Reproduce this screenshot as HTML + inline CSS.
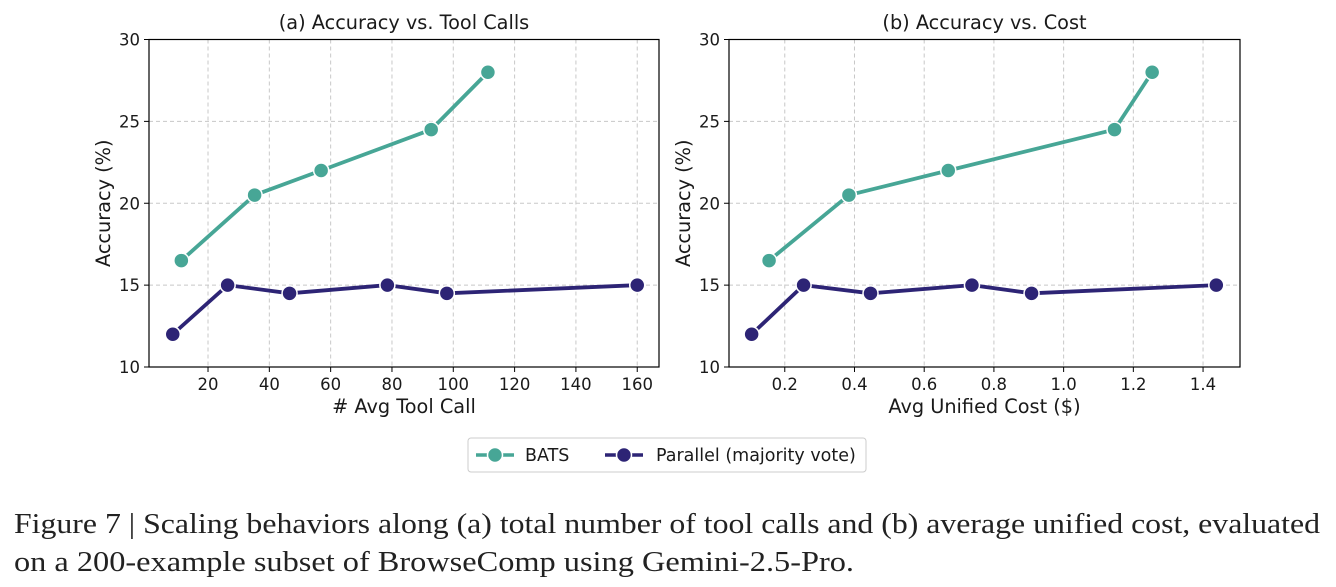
<!DOCTYPE html>
<html><head><meta charset="utf-8"><style>
html,body{margin:0;padding:0;background:#fff;}
svg{display:block;}
text{font-family:"DejaVu Sans","Liberation Sans",sans-serif;fill:#1a1a1a;}
.cap{font-family:"Liberation Serif","DejaVu Serif",serif;font-size:28px;fill:#222;}
</style></head><body>
<svg id="fig" width="1336" height="587" viewBox="0 0 1336 587" xmlns="http://www.w3.org/2000/svg">
<g id="plots"></g>
<g>
<rect x="468" y="438" width="398" height="34" fill="#fff" stroke="#ccc" rx="3"/>
<g>
<line x1="476" y1="455" x2="514" y2="455" stroke="#47a696" stroke-width="3.5"/>
<circle cx="495" cy="455" r="7.5" fill="#47a696" stroke="#fff" stroke-width="1.5"/>
<text x="525" y="461" font-size="17.5">BATS</text></g>
<g>
<line x1="605" y1="455" x2="643" y2="455" stroke="#2d2475" stroke-width="3.5"/>
<circle cx="624" cy="455" r="7.5" fill="#2d2475" stroke="#fff" stroke-width="1.5"/>
<text x="656" y="461" font-size="17.5">Parallel (majority vote)</text></g>
</g>
<text class="cap" x="14" y="533" textLength="1306" lengthAdjust="spacingAndGlyphs">Figure 7 | Scaling behaviors along (a) total number of tool calls and (b) average unified cost, evaluated</text>
<text class="cap" x="14" y="571" textLength="840" lengthAdjust="spacingAndGlyphs">on a 200-example subset of BrowseComp using Gemini-2.5-Pro.</text>
</svg>
<script>
const yTicks = [10, 15, 20, 25, 30];
const toolTicks = [20, 40, 60, 80, 100, 120, 140, 160];
const costTicks = [0.2, 0.4, 0.6, 0.8, 1.0, 1.2, 1.4];
const batsTool = [11.3, 35.2, 56.9, 92.8, 111.3];
const batsCost = [0.155, 0.384, 0.669, 1.146, 1.254];
const batsAcc = [16.5, 20.5, 22, 24.5, 28];
const parTool = [8.5, 26.4, 46.6, 78.5, 97.9, 160];
const parCost = [0.105, 0.254, 0.446, 0.737, 0.908, 1.438];
const parAcc = [12, 15, 14.5, 15, 14.5, 15];

const NS = "http://www.w3.org/2000/svg";
const root = document.getElementById('plots');
function mk(tag, attrs, parent, txt) {
  const e = document.createElementNS(NS, tag);
  for (const k in attrs) e.setAttribute(k, attrs[k]);
  if (txt !== undefined) e.textContent = txt;
  parent.appendChild(e);
  return e;
}
function panel(cfg) {
  const g = mk('g', {}, root);
  
  
  const L = cfg.L, R = cfg.R, T = 39.5, B = 367;
  const sx = v => L + (v - cfg.xmin) / (cfg.xmax - cfg.xmin) * (R - L);
  const sy = v => B - (v - 10) / 20 * (B - T);
  cfg.xticks.forEach(t => {
    const x = sx(t);
    const gl = mk('line', {x1: x, x2: x, y1: T, y2: B, stroke: '#c8c8c8', 'stroke-dasharray': '4,3', 'stroke-width': 1}, g);
    
    
    mk('line', {x1: x, x2: x, y1: B, y2: B + 5, stroke: '#000'}, g);
    const tl = mk('text', {x: x, y: B + 23, 'font-size': 16.5, 'text-anchor': 'middle'}, g, cfg.fmt(t));
    
    
  });
  yTicks.forEach(t => {
    const y = sy(t);
    if (t > 10 && t < 30) {
      const gl = mk('line', {x1: L, x2: R, y1: y, y2: y, stroke: '#c8c8c8', 'stroke-dasharray': '4,3', 'stroke-width': 1}, g);
      
      
    }
    mk('line', {x1: L - 5, x2: L, y1: y, y2: y, stroke: '#000'}, g);
    const tl = mk('text', {x: L - 9, y: y + 6, 'font-size': 16.5, 'text-anchor': 'end'}, g, String(t));
    
    
  });
  const fr = mk('rect', {x: L, y: T, width: R - L, height: B - T, fill: 'none', stroke: '#000', 'stroke-width': 1.2}, g);
  
  
  function series(xs, ys, color, nm) {
    const sg = mk('g', {}, g);
    
    
    const pts = xs.map((x, i) => sx(x) + ',' + sy(ys[i])).join(' ');
    const pl = mk('polyline', {points: pts, fill: 'none', stroke: color, 'stroke-width': 3.8, 'stroke-linejoin': 'round'}, sg);
    
    
    xs.forEach((x, i) => {
      const c = mk('circle', {cx: sx(x), cy: sy(ys[i]), r: 7.5, fill: color, stroke: '#fff', 'stroke-width': 1.5}, sg);
      
      
    });
  }
  series(cfg.bx, batsAcc, '#47a696', 'bats-series');
  series(cfg.px, parAcc, '#2d2475', 'parallel-series');
  const ti = mk('text', {x: (L + R) / 2, y: 29, 'font-size': 19.3, 'text-anchor': 'middle'}, g, cfg.title);
  
  
  const xl = mk('text', {x: (L + R) / 2, y: 413, 'font-size': 19.3, 'text-anchor': 'middle'}, g, cfg.xlabel);
  
  
  const yx = L - 39, yy = (T + B) / 2;
  const yl = mk('text', {x: yx, y: yy, 'font-size': 19.3, 'text-anchor': 'middle', transform: 'rotate(-90 ' + yx + ' ' + yy + ')'}, g, 'Accuracy (%)');
  
  
}
panel({name: 'chart-tool-calls', L: 149, R: 659, xmin: 0.75, xmax: 167.1, xticks: toolTicks, fmt: t => String(t),
  bx: batsTool, px: parTool, title: '(a) Accuracy vs. Tool Calls', xlabel: '# Avg Tool Call'});
panel({name: 'chart-cost', L: 729, R: 1240, xmin: 0.040, xmax: 1.506, xticks: costTicks, fmt: t => t.toFixed(1),
  bx: batsCost, px: parCost, title: '(b) Accuracy vs. Cost', xlabel: 'Avg Unified Cost ($)'});
</script>
</body></html>
